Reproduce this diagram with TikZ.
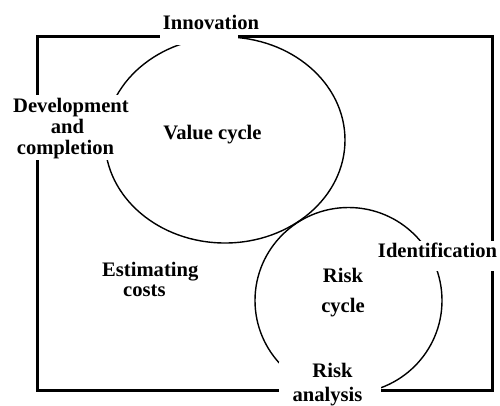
\documentclass[tikz,border=0pt]{standalone}
\usepackage{fontspec}
\setmainfont{Liberation Serif}
\begin{document}
\begin{tikzpicture}[x=1pt,y=-1pt,
  txt/.style={font=\bfseries\fontsize{20.6}{22}\selectfont, inner sep=0pt, anchor=base},
  cover/.style={fill=white, draw=none},
  frame/.style={line width=3pt},
  cyc/.style={line width=1.4pt}]
\useasboundingbox (0,0) rectangle (500,405);
% frame and cycles
\draw[frame] (37,36) rectangle (492,390);
\draw[cyc] (225,140) ellipse [x radius=120, y radius=103];
\draw[cyc] (348.5,300.5) ellipse [x radius=93.5, y radius=93];
% white patches behind labels
\fill[cover] (160,0) rectangle (238,44.5);
\fill[cover] (8,95) rectangle (132,160);
\fill[cover] (376,241) rectangle (500,271);
\fill[cover] (279,362) rectangle (381,405);
% labels
\node[txt] (innov) at (211,29) {Innovation};
\node[txt] (dev1) at (71,112) {Development};
\node[txt] (dev2) at (67.5,133) {and};
\node[txt] (dev3) at (65.5,154) {completion};
\node[txt] (value) at (212.5,139) {Value cycle};
\node[txt, anchor=base west] (est1) at (102,276.5) {Estimating};
\node[txt, anchor=base west] (est2) at (123,296) {costs};
\node[txt] (ident) at (437.5,257) {Identification};
\node[txt] (risk1) at (343,282) {Risk};
\node[txt] (risk2) at (343,312) {cycle};
\node[txt] (ana1) at (332.5,377) {Risk};
\node[txt] (ana2) at (327.5,401) {analysis};
\end{tikzpicture}
\end{document}
